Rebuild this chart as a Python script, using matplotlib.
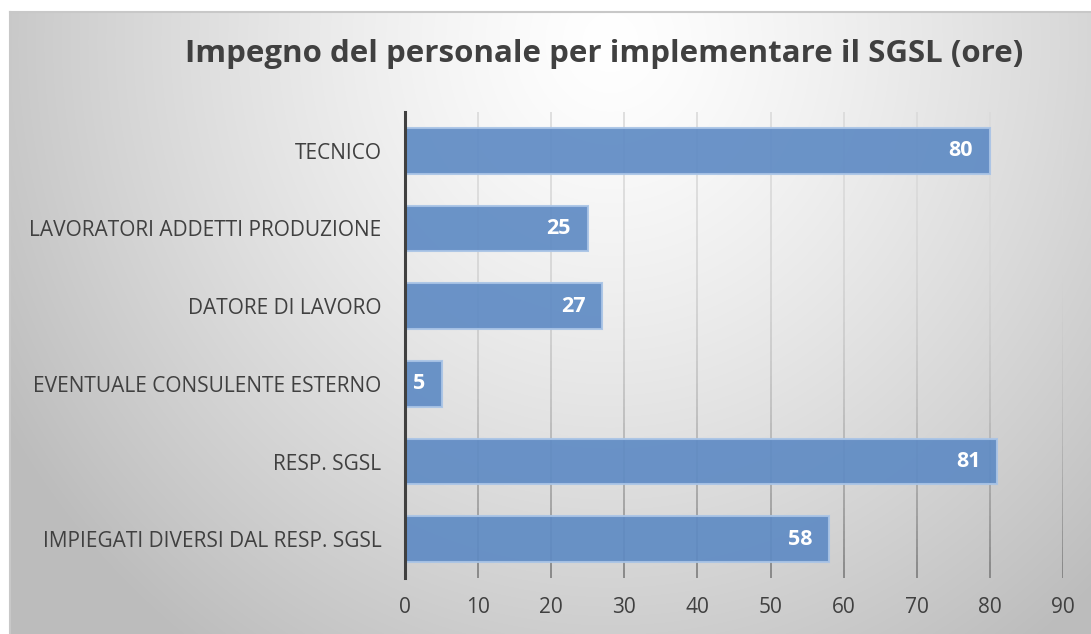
import numpy as np
import matplotlib.pyplot as plt
from matplotlib.collections import LineCollection

categories = ['TECNICO', 'LAVORATORI ADDETTI PRODUZIONE', 'DATORE DI LAVORO',
              'EVENTUALE CONSULENTE ESTERNO', 'RESP. SGSL',
              'IMPIEGATI DIVERSI DAL RESP. SGSL']
hours = [80, 25, 27, 5, 81, 58]
xticks = [0, 10, 20, 30, 40, 50, 60, 70, 80, 90]
title = 'Impegno del personale per implementare il SGSL (ore)'

W, H = 1091, 634
fig = plt.figure(figsize=(W / 100, H / 100), dpi=100)
plt.rcParams['font.family'] = ['Open Sans', 'DejaVu Sans']

# radial gradient background of the chart area
bg = fig.add_axes([10 / W, 0, 1 - 10 / W, (H - 12) / H], zorder=-2)
yy, xx = np.mgrid[0:H - 12, 0:W - 10]
d = np.sqrt(((xx - 600) / 640.0) ** 2 + ((yy - 30) / 680.0) ** 2)
g = 1.0 - 0.23 * np.clip(d, 0, 1.1) ** 1.3
bg.imshow(np.dstack([g, g, g]), aspect='auto', extent=[0, 1, 0, 1], origin='upper')
bg.set_xlim(0, 1)
bg.set_ylim(0, 1)
bg.set_xticks([])
bg.set_yticks([])
for s in ['right', 'bottom']:
    bg.spines[s].set_visible(False)
for s in ['top', 'left']:
    bg.spines[s].set_color('#c8c8c8')
    bg.spines[s].set_linewidth(1.5)

ax = fig.add_axes([405 / W, 56 / H, (1063 - 405) / W, (578 - 112) / H])
ax.patch.set_visible(False)
ypos = np.arange(len(categories))
ax.set_xlim(0, 90)
ax.set_ylim(len(categories) - 0.5, -0.5)

# gridlines getting darker toward the bottom
segs, cols = [], []
n = 60
for xv in xticks[1:]:
    for i in range(n):
        f0, f1 = i / n, (i + 1) / n
        y0 = -0.5 + f0 * len(categories)
        y1 = -0.5 + f1 * len(categories)
        segs.append([(xv, y0), (xv, y1)])
        fm = (f0 + f1) / 2
        v = (218 - 95 * fm ** 2.5) / 255
        cols.append((v, v, v))
ax.add_collection(LineCollection(segs, colors=cols, linewidths=1.2, zorder=1))

ax.barh(ypos, hours, height=0.59, color='#5f8bc4', alpha=0.92,
        edgecolor='#a9c4e6', linewidth=1.5, zorder=2)
for y, v in zip(ypos, hours):
    ax.annotate(str(v), (v, y), xytext=(-12, 0), textcoords='offset points',
                ha='right', va='center', color='white', fontsize=15.5,
                fontweight='bold', zorder=3)

ax.set_yticks(ypos)
ax.set_yticklabels(categories)
ax.set_xticks(xticks)
ax.tick_params(axis='both', length=0, labelsize=15, colors='#404040')
ax.tick_params(axis='y', pad=17)
ax.tick_params(axis='x', pad=14)
for s in ['top', 'right', 'bottom']:
    ax.spines[s].set_visible(False)
ax.spines['left'].set_color('#404040')
ax.spines['left'].set_linewidth(2.2)
ax.spines['left'].set_zorder(4)

fig.text(604 / W, 1 - 54 / H, title, ha='center', va='center',
         fontsize=22.5, fontweight='bold', color='#404040')

fig.savefig('out.png', dpi=100)
